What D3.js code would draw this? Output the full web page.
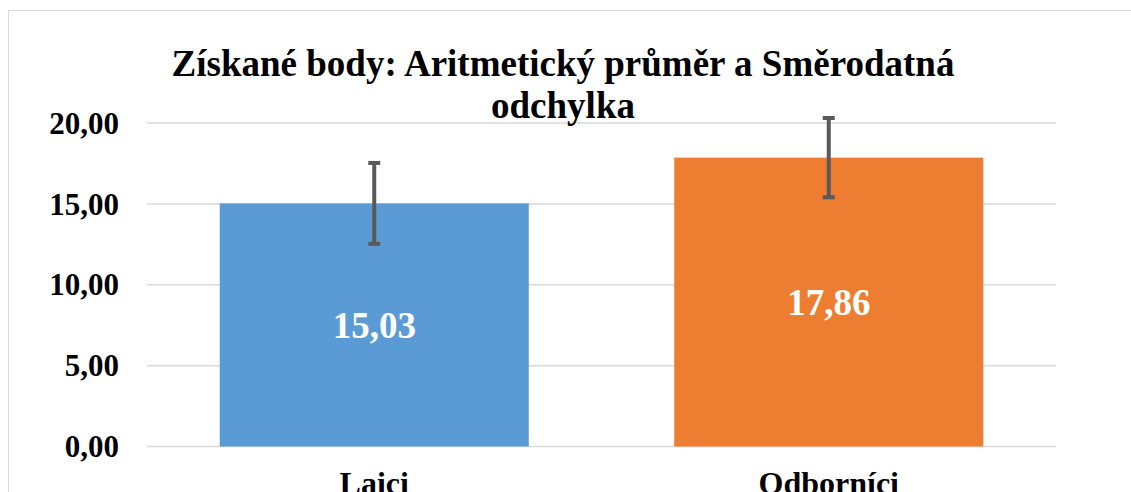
<!DOCTYPE html>
<html>
<head>
<meta charset="utf-8">
<script src="https://cdn.jsdelivr.net/npm/d3@7"></script>
<style>
  body { margin: 0; background: #fff; }
  svg text { font-family: "Liberation Serif", "Times New Roman", Times, serif; font-weight: bold; }
</style>
</head>
<body>
<svg width="1131" height="492"></svg>
<script>
var categories = ["Laici", "Odborníci"];
var means = [15.03, 17.86];
var sds = [2.50, 2.45];
var colors = ["#5b9bd5", "#ed7d31"];
var yTicks = [0, 5, 10, 15, 20];
var titleLines = ["Získané body: Aritmetický průměr a Směrodatná", "odchylka"];

var plot = {left: 147, right: 1056, top: 123, bottom: 446.5};

var svg = d3.select("svg");

// chart frame
svg.append("rect")
   .attr("x", 8.5).attr("y", 10.5)
   .attr("width", 1140).attr("height", 500)
   .attr("fill", "none")
   .attr("stroke", "#d9d9d9")
   .attr("stroke-width", 1);

var xScale = d3.scaleBand()
    .domain(categories)
    .range([plot.left, plot.right])
    .paddingInner(0.32)
    .paddingOuter(0.16);

var yScale = d3.scaleLinear()
    .domain([0, 20])
    .range([plot.bottom, plot.top]);

var fmt = function(v){ return d3.format(".2f")(v).replace(".", ","); };

// gridlines
svg.append("g")
   .selectAll("line")
   .data(yTicks)
   .enter()
   .append("line")
   .attr("x1", plot.left).attr("x2", plot.right)
   .attr("y1", function(d){ return yScale(d); })
   .attr("y2", function(d){ return yScale(d); })
   .attr("stroke", "#d9d9d9")
   .attr("stroke-width", 1.5);

// y axis labels
var yAxis = d3.axisLeft(yScale)
    .tickValues(yTicks)
    .tickFormat(fmt)
    .tickSize(0)
    .tickPadding(0);

var yg = svg.append("g")
   .attr("transform", "translate(119,0)")
   .call(yAxis);
yg.select(".domain").remove();
yg.selectAll("text")
  .attr("font-size", 31)
  .attr("fill", "#000")
  .attr("dy", "0.33em");

// bars
svg.append("g")
   .selectAll("rect")
   .data(categories)
   .enter()
   .append("rect")
   .attr("x", function(d){ return xScale(d); })
   .attr("width", xScale.bandwidth())
   .attr("y", function(d, i){ return yScale(means[i]); })
   .attr("height", function(d, i){ return yScale(0) - yScale(means[i]); })
   .attr("fill", function(d, i){ return colors[i]; });

// error bars
var eb = svg.append("g")
   .selectAll("g")
   .data(categories)
   .enter()
   .append("g")
   .attr("stroke", "#595959")
   .attr("stroke-width", 4);

var cx = function(d){ return xScale(d) + xScale.bandwidth() / 2; };

eb.append("line")
  .attr("x1", cx).attr("x2", cx)
  .attr("y1", function(d, i){ return yScale(means[i] + sds[i]); })
  .attr("y2", function(d, i){ return yScale(means[i] - sds[i]); });
eb.append("line")
  .attr("x1", function(d){ return cx(d) - 6; })
  .attr("x2", function(d){ return cx(d) + 6; })
  .attr("y1", function(d, i){ return yScale(means[i] + sds[i]); })
  .attr("y2", function(d, i){ return yScale(means[i] + sds[i]); });
eb.append("line")
  .attr("x1", function(d){ return cx(d) - 6; })
  .attr("x2", function(d){ return cx(d) + 6; })
  .attr("y1", function(d, i){ return yScale(means[i] - sds[i]); })
  .attr("y2", function(d, i){ return yScale(means[i] - sds[i]); });

// value labels
svg.append("g")
   .selectAll("text")
   .data(categories)
   .enter()
   .append("text")
   .attr("x", cx)
   .attr("y", function(d, i){ return yScale(means[i] / 2) + 13; })
   .attr("text-anchor", "middle")
   .attr("font-size", 37)
   .attr("fill", "#fff")
   .text(function(d, i){ return fmt(means[i]); });

// category labels (cut off by the bottom edge, as in the source)
svg.append("g")
   .selectAll("text")
   .data(categories)
   .enter()
   .append("text")
   .attr("x", cx)
   .attr("y", 494)
   .attr("text-anchor", "middle")
   .attr("font-size", 32)
   .attr("fill", "#000")
   .text(function(d){ return d; });

// title
svg.append("g")
   .selectAll("text")
   .data(titleLines)
   .enter()
   .append("text")
   .attr("x", 563)
   .attr("y", function(d, i){ return 76 + i * 42; })
   .attr("text-anchor", "middle")
   .attr("font-size", 37)
   .attr("fill", "#000")
   .text(function(d){ return d; });
</script>
</body>
</html>
